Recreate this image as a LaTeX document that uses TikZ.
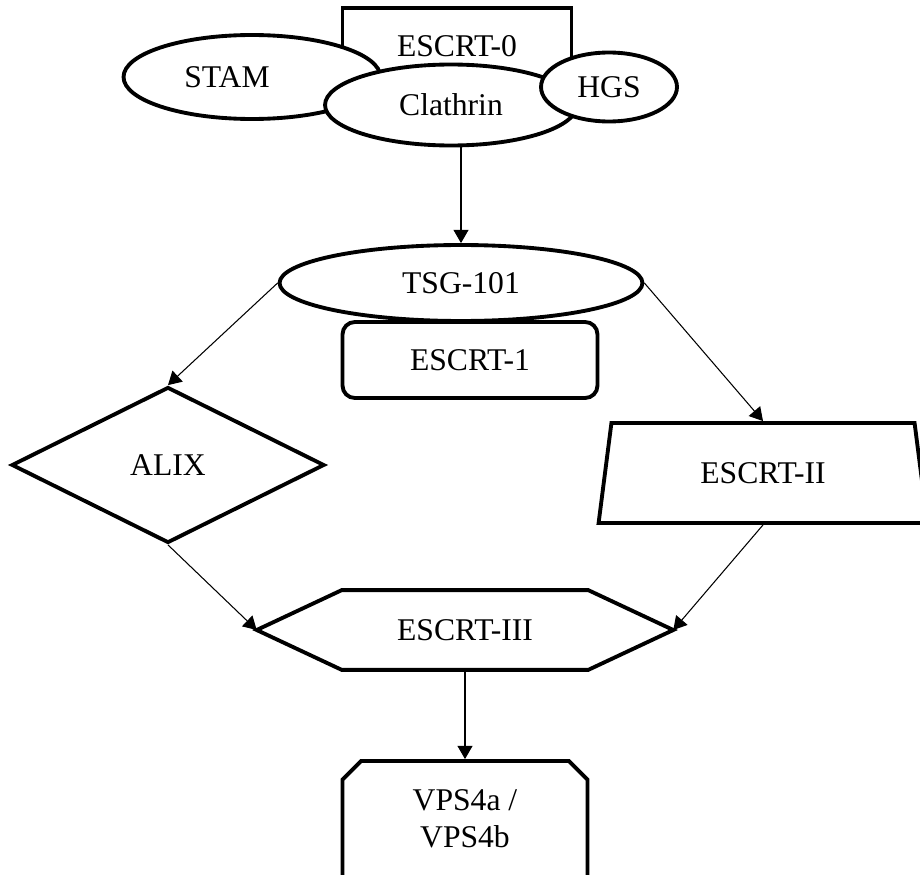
\documentclass[tikz,border=0pt]{standalone}
\usepackage{fontspec}
\setmainfont{Liberation Serif}
\usetikzlibrary{positioning,shapes.geometric,shapes.misc,arrows.meta}

\begin{document}
\begin{tikzpicture}[
        x=0.02cm, y=-0.02cm,
        font=\fontsize{18}{21}\selectfont,
        box/.style={draw, line width=2.2pt, fill=white, align=center, inner sep=0pt},
        ell/.style={box, ellipse},
        link/.style={-{Triangle[length=7.5pt,width=8.5pt]}, line width=0.6pt}
    ]
    \useasboundingbox (0,0) rectangle (920,875);

    \node[box, minimum width=4.58cm, minimum height=1.52cm] (e0) at (457,46) {ESCRT-0};
    \node[ell, minimum width=5.14cm, minimum height=1.68cm,
        label={[xshift=-0.5cm]center:STAM}] (stam) at (252,77) {};
    \node[ell, minimum width=5.04cm, minimum height=1.62cm] (cl) at (451,105) {Clathrin};
    \node[ell, minimum width=2.72cm, minimum height=1.38cm] (hgs) at (609,87) {HGS};

    \node[box, rounded corners=7pt, minimum width=5.1cm, minimum height=1.52cm] (e1) at (470,360) {ESCRT-1};
    \node[ell, minimum width=7.26cm, minimum height=1.52cm] (ts) at (461,283) {TSG-101};

    \node[box, diamond, minimum width=6.26cm, minimum height=3.12cm] (alix) at (168,465) {ALIX};
    \node[box, trapezium, trapezium left angle=76, trapezium right angle=76,
        trapezium stretches=true, minimum width=6.6cm, minimum height=2cm] (e2) at (763,473) {ESCRT-II};
    \node[inner sep=0pt, minimum width=8.32cm, minimum height=1.58cm] (e3) at (465,630) {ESCRT-III};
    \draw[line width=2.2pt, line join=miter] (e3.west) -- ([xshift=1.7cm]e3.north west)
        -- ([xshift=-1.7cm]e3.north east) -- (e3.east)
        -- ([xshift=-1.7cm]e3.south east) -- ([xshift=1.7cm]e3.south west) -- cycle;
    \node[box, chamfered rectangle, chamfered rectangle corners={north west,north east},
        chamfered rectangle xsep=0.2cm, chamfered rectangle ysep=0.17cm,
        minimum width=4.9cm, minimum height=2.32cm] (vps) at (465,819) {VPS4a /\\VPS4b};

    \draw[link] (cl.south -| ts.north) -- (ts.north);
    \draw[link] (ts.west) -- (alix.north);
    \draw[link] (ts.east) -- (e2.north);
    \draw[link] (alix.south) -- (e3.west);
    \draw[link] (e2.south) -- (e3.east);
    \draw[link] (e3.south) -- (vps.north);
\end{tikzpicture}
\end{document}
